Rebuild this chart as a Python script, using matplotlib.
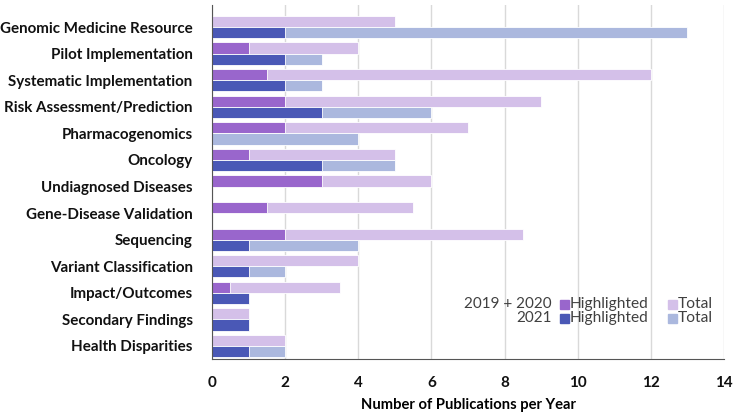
import numpy as np
import matplotlib.pyplot as plt
from matplotlib.patches import Rectangle

categories = ["Genomic Medicine Resource", "Pilot Implementation", "Systematic Implementation",
              "Risk Assessment/Prediction", "Pharmacogenomics", "Oncology", "Undiagnosed Diseases",
              "Gene-Disease Validation", "Sequencing", "Variant Classification", "Impact/Outcomes",
              "Secondary Findings", "Health Disparities"]
# 2019 + 2020
high_1920 = [0, 1, 1.5, 2, 2, 1, 3, 1.5, 2, 0, 0.5, 0, 0]
total_1920 = [5, 4, 12, 9, 7, 5, 6, 5.5, 8.5, 4, 3.5, 1, 2]
# 2021
high_2021 = [2, 2, 2, 3, 0, 3, 0, 0, 1, 1, 1, 1, 1]
total_2021 = [13, 3, 3, 6, 4, 5, 0, 0, 4, 2, 1, 1, 2]

c_h1 = "#9966cc"
c_t1 = "#d4c0e9"
c_h2 = "#4a58b6"
c_t2 = "#abb8de"

plt.rcParams['font.family'] = ['Lato', 'DejaVu Sans']

fig = plt.figure(figsize=(7.38, 4.15), dpi=100)
ax = fig.add_axes([0.2873, 0.1349, 0.981 - 0.2873, 0.988 - 0.1349])

y = np.arange(len(categories))
h = 0.42
kw = dict(height=h, edgecolor="white", linewidth=0.6, zorder=2)
ax.barh(y - h / 2, total_1920, color=c_t1, **kw)
ax.barh(y - h / 2, high_1920, color=c_h1, **kw)
ax.barh(y + h / 2, total_2021, color=c_t2, **kw)
ax.barh(y + h / 2, high_2021, color=c_h2, **kw)

ax.set_xlim(0, 14)
ax.set_ylim(12.49, -0.83)
ax.set_xticks(range(0, 15, 2))
ax.set_yticks(y)
ax.set_yticklabels(categories, fontsize=10.9, fontweight="bold", color="#111111")
ax.tick_params(axis="x", labelsize=11, length=0, pad=12, colors="#111111")
ax.tick_params(axis="y", length=0, pad=14)
for lab in ax.get_xticklabels():
    lab.set_fontweight("bold")
ax.grid(axis="x", color="#d9d9d9", linewidth=1, zorder=0)
ax.set_axisbelow(True)
for s in ["top", "right"]:
    ax.spines[s].set_visible(False)
ax.spines["left"].set_color("#555555")
ax.spines["bottom"].set_color("#555555")
ax.set_xlabel("Number of Publications per Year", fontsize=10.6, fontweight="bold", labelpad=6)

# legend drawn by hand
def ax_x(px):
    return (px - 212) / (724 - 212)

def ax_y(py):
    return (359 - py) / (359 - 5)

rows = [("2019 + 2020", c_h1, c_t1, 304), ("2021", c_h2, c_t2, 318)]
for name, ch, ct, py in rows:
    ax.text(ax_x(552), ax_y(py), name, transform=ax.transAxes, ha="right", va="center",
            fontsize=11, color="#404040")
    for px, col, lab in [(560, ch, "Highlighted"), (668, ct, "Total")]:
        ax.add_patch(Rectangle((ax_x(px), ax_y(py + 4.5)), 9 / 512, 9 / 354,
                               transform=ax.transAxes, color=col, zorder=3))
        ax.text(ax_x(px + 10), ax_y(py), lab, transform=ax.transAxes, ha="left",
                va="center", fontsize=11.2, color="#404040")

fig.savefig("out.png", dpi=100)
